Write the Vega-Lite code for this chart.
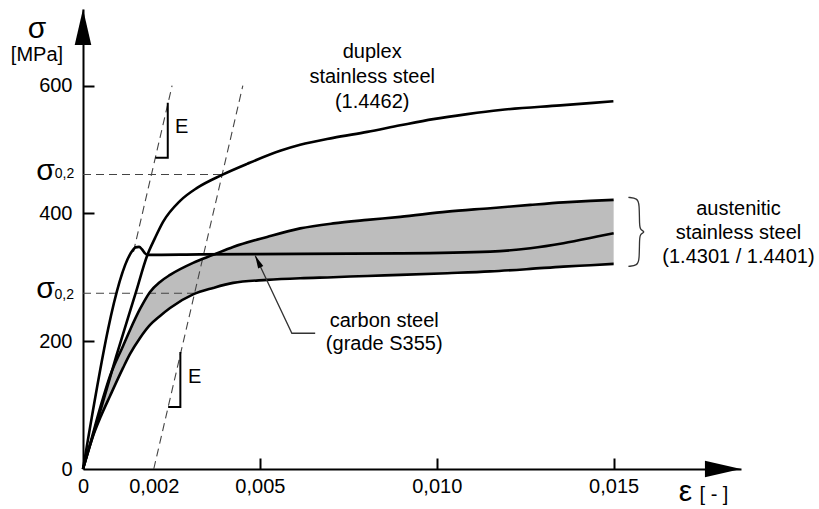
{
  "$schema": "https://vega.github.io/schema/vega-lite/v6.json",
  "width": 658,
  "height": 460,
  "autosize": {"type": "none"},
  "padding": {"left": 83, "top": 9, "right": 78, "bottom": 40},
  "background": "white",
  "config": {"view": {"stroke": null}, "font": "Liberation Sans", "text": {"font": "Liberation Sans", "color": "black"}},
  "datasets": {
    "band": [
      {"x": 0, "y": 0, "y2": 0},
      {"x": 0.000255, "y": 50.1, "y2": 47.0},
      {"x": 0.000509, "y": 100.2, "y2": 83.0},
      {"x": 0.000764, "y": 145.6, "y2": 114.3},
      {"x": 0.001132, "y": 192.6, "y2": 158.2},
      {"x": 0.00133, "y": 217.7, "y2": 180.1},
      {"x": 0.001612, "y": 250.5, "y2": 205.1},
      {"x": 0.001895, "y": 277.2, "y2": 225.5},
      {"x": 0.002178, "y": 292.8, "y2": 239.6},
      {"x": 0.002461, "y": 303.8, "y2": 252.1},
      {"x": 0.003112, "y": 322.6, "y2": 273.3},
      {"x": 0.003678, "y": 335.1, "y2": 283.4},
      {"x": 0.004243, "y": 347.6, "y2": 291.3},
      {"x": 0.005205, "y": 363.3, "y2": 296.0},
      {"x": 0.006139, "y": 376.6, "y2": 298.6},
      {"x": 0.007072, "y": 384.4, "y2": 300.2},
      {"x": 0.008034, "y": 389.9, "y2": 302.2},
      {"x": 0.008967, "y": 394.6, "y2": 303.8},
      {"x": 0.010297, "y": 402.9, "y2": 306.5},
      {"x": 0.011513, "y": 408.2, "y2": 309.3},
      {"x": 0.012645, "y": 413.4, "y2": 313.2},
      {"x": 0.013579, "y": 417.3, "y2": 316.8},
      {"x": 0.014342, "y": 419.7, "y2": 319.0},
      {"x": 0.015, "y": 421.2, "y2": 321.0}
    ],
    "curves": [
      {"s": "duplex", "x": 0, "y": 0},
      {"s": "duplex", "x": 0.000481, "y": 89.3},
      {"s": "duplex", "x": 0.000934, "y": 175.4},
      {"s": "duplex", "x": 0.001499, "y": 277.2},
      {"s": "duplex", "x": 0.00181, "y": 333.5},
      {"s": "duplex", "x": 0.002037, "y": 361.7},
      {"s": "duplex", "x": 0.002263, "y": 386.8},
      {"s": "duplex", "x": 0.002744, "y": 419.7},
      {"s": "duplex", "x": 0.003225, "y": 440.0},
      {"s": "duplex", "x": 0.003932, "y": 460.4},
      {"s": "duplex", "x": 0.004639, "y": 477.6},
      {"s": "duplex", "x": 0.005573, "y": 498.0},
      {"s": "duplex", "x": 0.006139, "y": 507.4},
      {"s": "duplex", "x": 0.007072, "y": 518.3},
      {"s": "duplex", "x": 0.008034, "y": 527.7},
      {"s": "duplex", "x": 0.008967, "y": 537.9},
      {"s": "duplex", "x": 0.009901, "y": 547.6},
      {"s": "duplex", "x": 0.010863, "y": 555.5},
      {"s": "duplex", "x": 0.011796, "y": 562.0},
      {"s": "duplex", "x": 0.013494, "y": 569.2},
      {"s": "duplex", "x": 0.014993, "y": 575.5},
      {"s": "carbon", "x": 0, "y": 0},
      {"s": "carbon", "x": 0.001414, "y": 342.9},
      {"s": "carbon", "x": 0.001485, "y": 346.9},
      {"s": "carbon", "x": 0.001584, "y": 347.6},
      {"s": "carbon", "x": 0.001669, "y": 343.7},
      {"s": "carbon", "x": 0.001754, "y": 337.5},
      {"s": "carbon", "x": 0.001839, "y": 335.1},
      {"s": "carbon", "x": 0.00331, "y": 335.9},
      {"s": "carbon", "x": 0.006139, "y": 336.7},
      {"s": "carbon", "x": 0.008967, "y": 337.5},
      {"s": "carbon", "x": 0.011513, "y": 340.3},
      {"s": "carbon", "x": 0.012645, "y": 345.6},
      {"s": "carbon", "x": 0.013579, "y": 353.4},
      {"s": "carbon", "x": 0.014532, "y": 363.8},
      {"s": "carbon", "x": 0.015, "y": 369.1}
    ],
    "dashed": [
      {"g": "s1", "x": 0, "y": 461},
      {"g": "s1", "x": 0.003935, "y": 461},
      {"g": "s2", "x": 0, "y": 275.1},
      {"g": "s2", "x": 0.003154, "y": 275.1},
      {"g": "d1", "x": 0.001427, "y": 340},
      {"g": "d1", "x": 0.002518, "y": 600},
      {"g": "d2", "x": 0.002, "y": 0},
      {"g": "d2", "x": 0.004518, "y": 600}
    ],
    "etri": [
      {"g": "e1", "o": 1, "x": 0.002396, "y": 573.1},
      {"g": "e1", "o": 2, "x": 0.002396, "y": 487.0},
      {"g": "e1", "o": 3, "x": 0.002044, "y": 487.0},
      {"g": "e2", "o": 1, "x": 0.002752, "y": 183.2},
      {"g": "e2", "o": 2, "x": 0.002752, "y": 97.1},
      {"g": "e2", "o": 3, "x": 0.002407, "y": 97.1}
    ],
    "leader": [
      {"x": 0.004866, "y": 334.3},
      {"x": 0.005904, "y": 212.5},
      {"x": 0.006563, "y": 212.5}
    ],
    "brace": [
      {"o": 1, "x": 0.015417, "y": 425.2},
      {"o": 2, "x": 0.015672, "y": 423.6},
      {"o": 3, "x": 0.015728, "y": 415.0},
      {"o": 4, "x": 0.015728, "y": 380.5},
      {"o": 5, "x": 0.015757, "y": 374.3},
      {"o": 6, "x": 0.015898, "y": 371.1},
      {"o": 7, "x": 0.015757, "y": 368.0},
      {"o": 8, "x": 0.015728, "y": 361.7},
      {"o": 9, "x": 0.015728, "y": 327.3},
      {"o": 10, "x": 0.015672, "y": 318.7},
      {"o": 11, "x": 0.015417, "y": 317.1}
    ],
    "labels": [
      {"t": "duplex", "x": 0.008175, "y": 643.1},
      {"t": "stainless steel", "x": 0.008175, "y": 604.0},
      {"t": "(1.4462)", "x": 0.008175, "y": 564.8},
      {"t": "austenitic", "x": 0.018529, "y": 397.7},
      {"t": "stainless steel", "x": 0.018529, "y": 359.4},
      {"t": "(1.4301 / 1.4401)", "x": 0.018529, "y": 321.8},
      {"t": "carbon steel", "x": 0.008515, "y": 222.4},
      {"t": "(grade S355)", "x": 0.008515, "y": 186.3},
      {"t": "E", "x": 0.002792, "y": 526.2},
      {"t": "E", "x": 0.00316, "y": 134.7},
      {"t": "[MPa]", "x": -0.001301, "y": 638.9},
      {"t": "[ - ]", "x": 0.017836, "y": -50.1}
    ],
    "biglabels": [
      {"t": "σ", "x": -0.001301, "y": 674.9},
      {"t": "σ", "x": -0.001061, "y": 452.6},
      {"t": "σ", "x": -0.001061, "y": 267.3},
      {"t": "ε", "x": 0.01703, "y": -50.1}
    ],
    "sublabels": [
      {"t": "0,2", "x": -0.000523, "y": 455.2},
      {"t": "0,2", "x": -0.000529, "y": 265.7}
    ]
  },
  "layer": [
    {
      "data": {"name": "band"},
      "mark": {"type": "area", "color": "#bdbdbd", "interpolate": "monotone"},
      "encoding": {
        "x": {"field": "x", "type": "quantitative", "title": null, "scale": {"domain": [0, 0.0186], "nice": false},
          "axis": {"values": [0, 0.002, 0.005, 0.01, 0.015], "title": null, "grid": false,
            "domainColor": "black", "domainWidth": 2, "tickColor": "black", "tickWidth": 2, "tickSize": -11,
            "tickOpacity": {"condition": {"test": "datum.value < 0.003", "value": 0}, "value": 1},
            "labelExpr": "datum.value == 0 ? '0' : replace(format(datum.value, '.3f'), '.', ',')",
            "labelFont": "Liberation Sans", "labelFontSize": 20, "labelColor": "black",
            "labelPadding": 18, "labelFlush": false, "labelOverlap": false}},
        "y": {"field": "y", "type": "quantitative", "title": null, "scale": {"domain": [0, 720], "nice": false},
          "axis": {"values": [0, 200, 400, 600], "title": null, "grid": false,
            "domainColor": "black", "domainWidth": 2, "tickColor": "black", "tickWidth": 2, "tickSize": -11,
            "tickOpacity": {"condition": {"test": "datum.value == 0", "value": 0}, "value": 1},
            "labelFont": "Liberation Sans", "labelFontSize": 20, "labelColor": "black",
            "labelPadding": 22, "labelFlush": false, "labelOverlap": false}},
        "y2": {"field": "y2"}
      }
    },
    {
      "data": {"name": "dashed"},
      "mark": {"type": "line", "color": "#444", "strokeWidth": 1.1, "strokeDash": [8, 5]},
      "encoding": {
        "x": {"field": "x", "type": "quantitative", "title": null, "scale": {"domain": [0, 0.0186], "nice": false}},
        "y": {"field": "y", "type": "quantitative", "title": null, "scale": {"domain": [0, 720], "nice": false}},
        "detail": {"field": "g"}
      }
    },
    {
      "data": {"name": "band"},
      "mark": {"type": "line", "color": "black", "strokeWidth": 2.6, "interpolate": "monotone"},
      "encoding": {
        "x": {"field": "x", "type": "quantitative", "title": null, "scale": {"domain": [0, 0.0186], "nice": false}},
        "y": {"field": "y", "type": "quantitative", "title": null, "scale": {"domain": [0, 720], "nice": false}}
      }
    },
    {
      "data": {"name": "band"},
      "mark": {"type": "line", "color": "black", "strokeWidth": 2.6, "interpolate": "monotone"},
      "encoding": {
        "x": {"field": "x", "type": "quantitative", "title": null, "scale": {"domain": [0, 0.0186], "nice": false}},
        "y": {"field": "y2", "type": "quantitative", "title": null, "scale": {"domain": [0, 720], "nice": false}}
      }
    },
    {
      "data": {"name": "curves"},
      "mark": {"type": "line", "color": "black", "strokeWidth": 2.6, "interpolate": "monotone"},
      "encoding": {
        "x": {"field": "x", "type": "quantitative", "title": null, "scale": {"domain": [0, 0.0186], "nice": false}},
        "y": {"field": "y", "type": "quantitative", "title": null, "scale": {"domain": [0, 720], "nice": false}},
        "detail": {"field": "s"}
      }
    },
    {
      "data": {"name": "etri"},
      "mark": {"type": "line", "color": "black", "strokeWidth": 2},
      "encoding": {
        "x": {"field": "x", "type": "quantitative", "title": null, "scale": {"domain": [0, 0.0186], "nice": false}},
        "y": {"field": "y", "type": "quantitative", "title": null, "scale": {"domain": [0, 720], "nice": false}},
        "detail": {"field": "g"},
        "order": {"field": "o"}
      }
    },
    {
      "data": {"name": "leader"},
      "mark": {"type": "line", "color": "#333", "strokeWidth": 1.3},
      "encoding": {
        "x": {"field": "x", "type": "quantitative", "title": null, "scale": {"domain": [0, 0.0186], "nice": false}},
        "y": {"field": "y", "type": "quantitative", "title": null, "scale": {"domain": [0, 720], "nice": false}}
      }
    },
    {
      "data": {"values": [{"x": 0.004866, "y": 334.3}]},
      "mark": {"type": "point", "shape": "M0,0L-0.35,1.6L0.35,1.6Z", "size": 264, "filled": true, "color": "black", "opacity": 1, "angle": 334.6},
      "encoding": {
        "x": {"field": "x", "type": "quantitative", "title": null, "scale": {"domain": [0, 0.0186], "nice": false}},
        "y": {"field": "y", "type": "quantitative", "title": null, "scale": {"domain": [0, 720], "nice": false}}
      }
    },
    {
      "data": {"name": "brace"},
      "mark": {"type": "line", "color": "#333", "strokeWidth": 1.3, "interpolate": "basis"},
      "encoding": {
        "x": {"field": "x", "type": "quantitative", "title": null, "scale": {"domain": [0, 0.0186], "nice": false}},
        "y": {"field": "y", "type": "quantitative", "title": null, "scale": {"domain": [0, 720], "nice": false}},
        "order": {"field": "o"}
      }
    },
    {
      "data": {"values": [{"x": 0, "y": 720}]},
      "mark": {"type": "point", "shape": "M0,0L-0.46,2L0.46,2Z", "size": 1300, "filled": true, "color": "black", "opacity": 1, "angle": 0},
      "encoding": {
        "x": {"field": "x", "type": "quantitative", "title": null, "scale": {"domain": [0, 0.0186], "nice": false}},
        "y": {"field": "y", "type": "quantitative", "title": null, "scale": {"domain": [0, 720], "nice": false}}
      }
    },
    {
      "data": {"values": [{"x": 0.0186, "y": 0}]},
      "mark": {"type": "point", "shape": "M0,0L-0.46,2L0.46,2Z", "size": 1300, "filled": true, "color": "black", "opacity": 1, "angle": 90},
      "encoding": {
        "x": {"field": "x", "type": "quantitative", "title": null, "scale": {"domain": [0, 0.0186], "nice": false}},
        "y": {"field": "y", "type": "quantitative", "title": null, "scale": {"domain": [0, 720], "nice": false}}
      }
    },
    {
      "data": {"name": "labels"},
      "mark": {"type": "text", "fontSize": 20, "align": "center", "baseline": "alphabetic", "font": "Liberation Sans", "color": "black"},
      "encoding": {
        "x": {"field": "x", "type": "quantitative", "title": null, "scale": {"domain": [0, 0.0186], "nice": false}},
        "y": {"field": "y", "type": "quantitative", "title": null, "scale": {"domain": [0, 720], "nice": false}},
        "text": {"field": "t"}
      }
    },
    {
      "data": {"name": "biglabels"},
      "mark": {"type": "text", "fontSize": 30, "align": "center", "baseline": "alphabetic", "font": "Liberation Sans", "color": "black"},
      "encoding": {
        "x": {"field": "x", "type": "quantitative", "title": null, "scale": {"domain": [0, 0.0186], "nice": false}},
        "y": {"field": "y", "type": "quantitative", "title": null, "scale": {"domain": [0, 720], "nice": false}},
        "text": {"field": "t"}
      }
    },
    {
      "data": {"name": "sublabels"},
      "mark": {"type": "text", "fontSize": 14, "align": "center", "baseline": "alphabetic", "font": "Liberation Sans", "color": "black"},
      "encoding": {
        "x": {"field": "x", "type": "quantitative", "title": null, "scale": {"domain": [0, 0.0186], "nice": false}},
        "y": {"field": "y", "type": "quantitative", "title": null, "scale": {"domain": [0, 720], "nice": false}},
        "text": {"field": "t"}
      }
    }
  ]
}
